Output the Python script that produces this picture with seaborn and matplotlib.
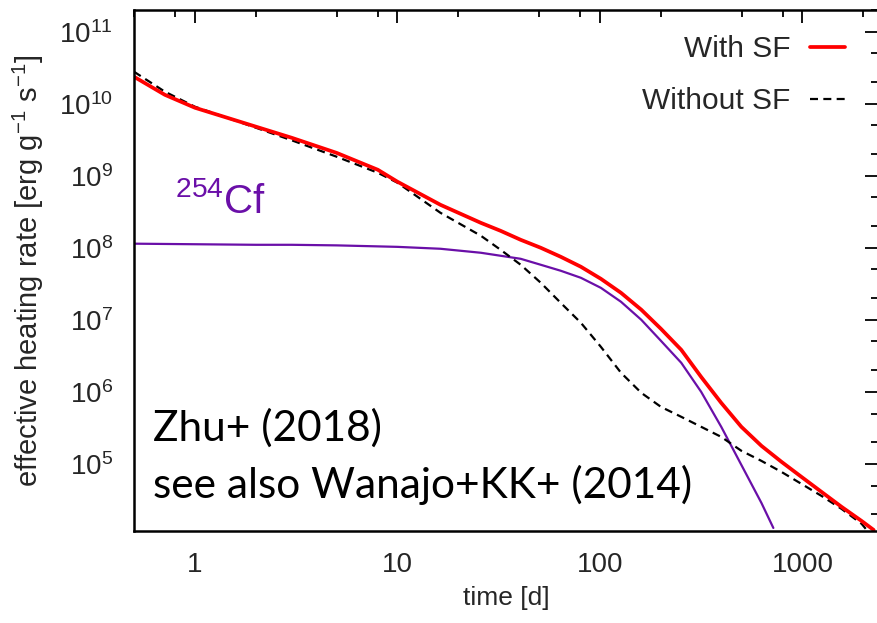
import matplotlib
matplotlib.use("Agg")
import matplotlib.pyplot as plt
import matplotlib.ticker as mticker
import seaborn as sns
import pandas as pd

# ---- data (time in days, heating rate in erg/g/s) ----
t_with = [0.5, 0.71, 1, 2, 3, 5, 8, 10, 16.3, 25.8, 32.3, 40.6, 51, 64, 80.5, 101, 127,
          160, 200, 252, 316, 397, 499, 627, 787, 989, 1242, 1560, 1960, 2246]
q_with = [2.37e10, 1.33e10, 8.79e9, 4.80e9, 3.37e9, 2.08e9, 1.21e9, 8.26e8, 3.95e8,
          2.22e8, 1.72e8, 1.29e8, 1.0e8, 7.5e7, 5.45e7, 3.71e7, 2.37e7,
          1.38e7, 7.5e6, 3.83e6, 1.61e6, 7.03e5, 3.27e5, 1.78e5, 1.07e5, 6.59e4,
          4.08e4, 2.53e4, 1.61e4, 1.21e4]

t_without = [0.5, 0.71, 1, 2, 3, 5, 8, 10, 16.3, 25.8, 32.3, 40.6, 51, 64, 80.5, 101,
             127, 160, 200, 252, 316, 397, 499, 627, 787, 989, 1242, 1560, 1960, 2075]
q_without = [2.78e10, 1.47e10, 9.08e9, 4.64e9, 3.11e9, 1.84e9, 1.10e9, 8.0e8, 3.06e8,
             1.47e8, 9.38e7, 5.81e7, 3.27e7, 1.72e7, 9.09e6, 4.22e6, 1.84e6,
             9.68e5, 6.19e5, 4.5e5, 3.27e5, 2.37e5, 1.52e5, 1.10e5, 7.74e4, 5.27e4,
             3.59e4, 2.37e4, 1.47e4, 1.21e4]

t_cf = [0.5, 1, 2, 3, 5, 10, 16.3, 25.8, 32.3, 40.6, 51, 64, 80.5, 101, 127, 160,
        200, 252, 316, 397, 499, 627, 718]
q_cf = [1.14e8, 1.12e8, 1.10e8, 1.10e8, 1.08e8, 1.03e8, 9.69e7, 8.53e7, 7.75e7,
        7.03e7, 5.81e7, 4.80e7, 3.83e7, 2.78e7, 1.78e7, 1.0e7,
        5.11e6, 2.53e6, 1.0e6, 3.27e5, 9.68e4, 2.87e4, 1.29e4]

x_ticks = [1, 10, 100, 1000]
x_tick_labels = ["1", "10", "100", "1000"]
x_minor = [0.5, 0.8, 2, 5, 8, 20, 50, 80, 200, 500, 800, 2000]
y_ticks = [1e5, 1e6, 1e7, 1e8, 1e9, 1e10, 1e11]
y_tick_labels = [r"$10^{5}$", r"$10^{6}$", r"$10^{7}$", r"$10^{8}$", r"$10^{9}$",
                 r"$10^{10}$", r"$10^{11}$"]

RED = "#ff0000"
PURPLE = "#6a0fa8"

sns.set_theme(style="white")
plt.rcParams["font.family"] = ["Liberation Sans", "DejaVu Sans"]
plt.rcParams["mathtext.fontset"] = "custom"
plt.rcParams["mathtext.rm"] = "Liberation Sans"
plt.rcParams["mathtext.it"] = "Liberation Sans"
plt.rcParams["mathtext.default"] = "regular"

fig = plt.figure(figsize=(8.77, 6.23), dpi=100)
ax = fig.add_axes([134 / 877, 1 - 531 / 623, (878 - 134) / 877, (531 - 10) / 623])

df_with = pd.DataFrame({"t": t_with, "q": q_with})
df_without = pd.DataFrame({"t": t_without, "q": q_without})
df_cf = pd.DataFrame({"t": t_cf, "q": q_cf})

ax.set_xscale("log")
ax.set_yscale("log")

sns.lineplot(data=df_cf, x="t", y="q", color=PURPLE, lw=1.6, ax=ax, legend=False,
             estimator=None)
sns.lineplot(data=df_without, x="t", y="q", color="black", lw=1.6, ax=ax,
             label="Without SF", estimator=None)
sns.lineplot(data=df_with, x="t", y="q", color=RED, lw=2.7, ax=ax,
             label="With SF", estimator=None)
ax.lines[1].set_dashes((3.6, 2.4))

ax.set_xlim(0.5, 2360)
ax.set_ylim(1.17e4, 2.0e11)

ax.set_xticks(x_ticks)
ax.set_xticklabels(x_tick_labels)
ax.xaxis.set_minor_locator(mticker.FixedLocator(x_minor))
ax.xaxis.set_minor_formatter(mticker.NullFormatter())
ax.set_yticks(y_ticks)
ax.set_yticklabels(y_tick_labels)
ax.yaxis.set_minor_locator(mticker.LogLocator(base=10, subs=[2, 5], numticks=20))
ax.yaxis.set_minor_formatter(mticker.NullFormatter())

for s in ax.spines.values():
    s.set_color("black")
    s.set_linewidth(1.8)

ax.tick_params(which="both", direction="in", top=True, right=True, color="black",
               width=1.3)
ax.tick_params(which="major", length=9.5, labelsize=20)
ax.tick_params(which="minor", length=5)
ax.tick_params(axis="y", which="major", pad=15)
ax.tick_params(axis="x", which="major", pad=15)

ax.set_xlabel("time [d]", fontsize=19)
ax.xaxis.set_label_coords(0.5, -0.105)
ax.set_ylabel(r"effective heating rate [erg g$^{-1}$ s$^{-1}$]", fontsize=21)
ax.yaxis.set_label_coords(-0.118, 0.5)

h, l = ax.get_legend_handles_labels()
order = [l.index("With SF"), l.index("Without SF")]
ax.legend([h[i] for i in order], [l[i] for i in order], loc="upper right",
          bbox_to_anchor=(0.956, 0.952), frameon=False, markerfirst=False,
          fontsize=21.5, handlelength=1.17, handletextpad=0.67, labelspacing=0.82,
          borderpad=0, borderaxespad=0)

ax.text(0.055, 0.610, r"$^{254}$Cf", transform=ax.transAxes, fontsize=29,
        color=PURPLE, ha="left", va="baseline")

ax.text(0.026, 0.173, "Zhu+ (2018)", transform=ax.transAxes, fontsize=30.5,
        family=["Lato", "DejaVu Sans"], ha="left", va="baseline", color="black")
ax.text(0.026, 0.063, "see also Wanajo+KK+ (2014)", transform=ax.transAxes,
        fontsize=30.5, family=["Lato", "DejaVu Sans"], ha="left", va="baseline",
        color="black")

fig.savefig("out.png", dpi=100)
